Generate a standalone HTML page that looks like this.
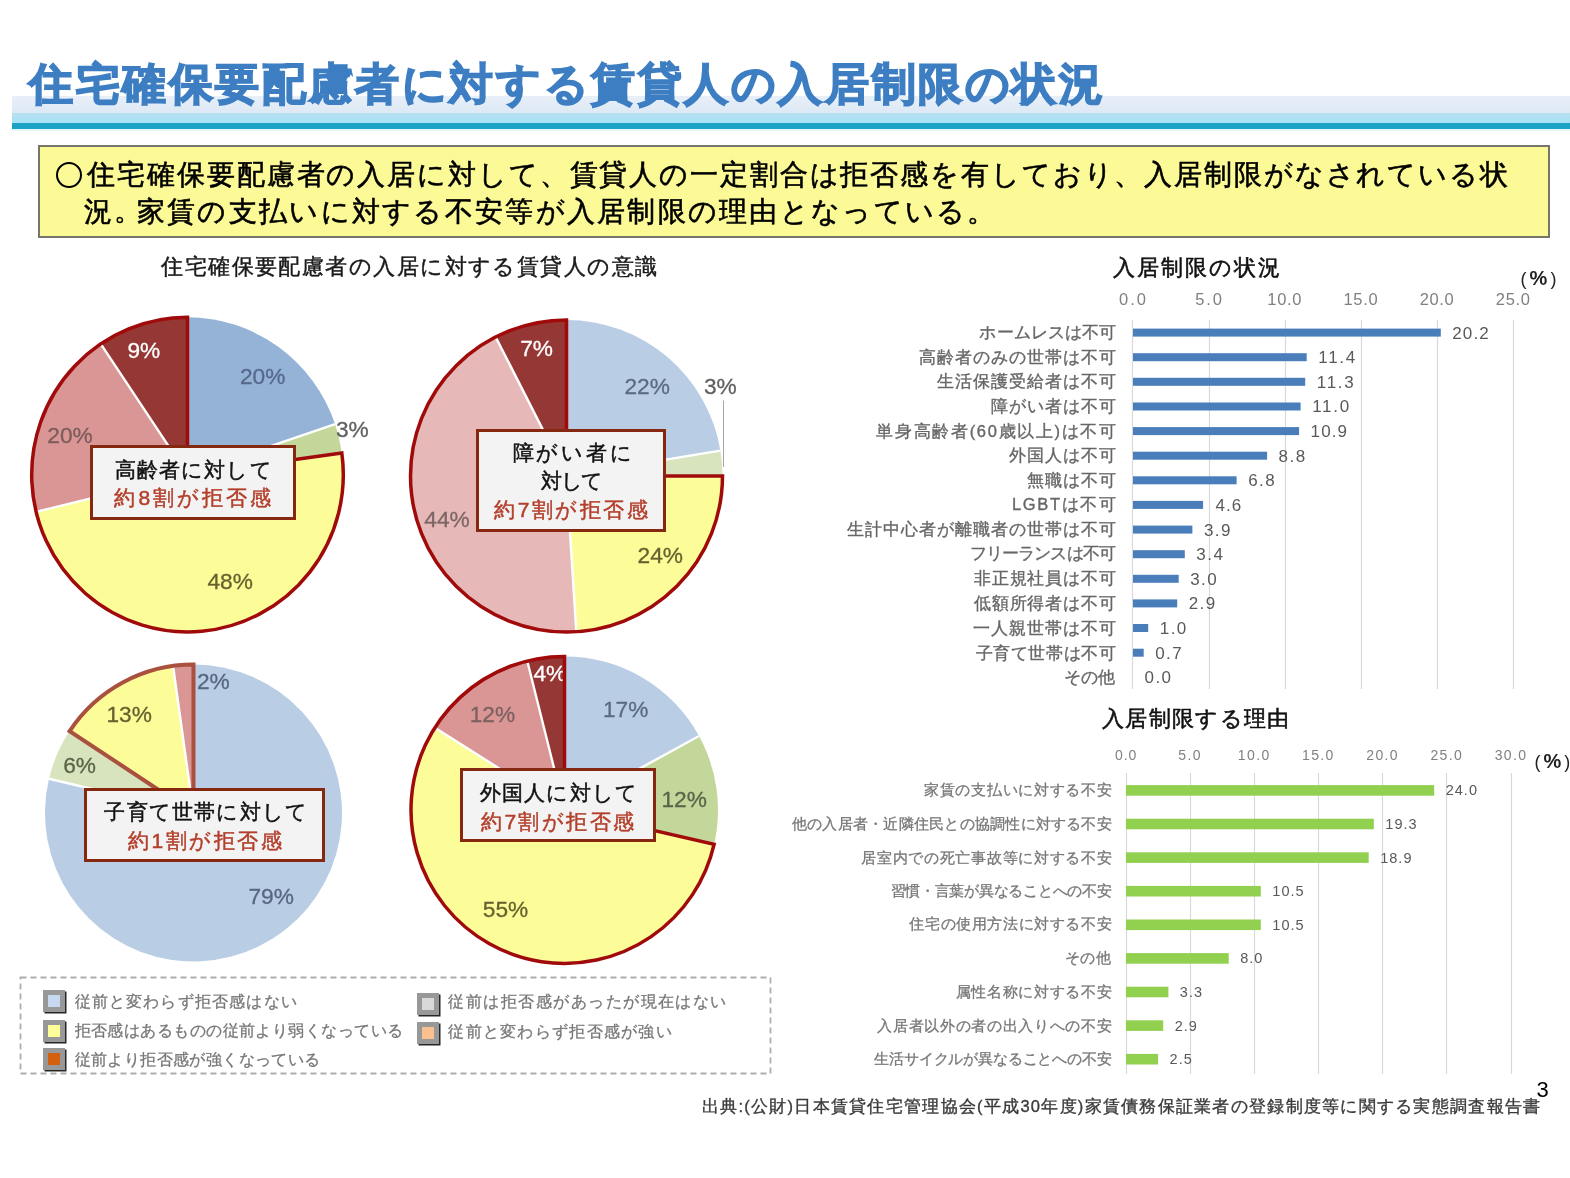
<!DOCTYPE html>
<html><head><meta charset="utf-8"><style>
*{margin:0;padding:0;box-sizing:border-box;}
body{width:1570px;height:1178px;position:relative;overflow:hidden;background:#fff;font-family:"Liberation Sans", sans-serif;}
.a{position:absolute;}
.t{position:absolute;white-space:nowrap;line-height:1;}
.st{font-family:"Liberation Sans", sans-serif;}
.cb{position:absolute;background:#f3f3f4;border:3px solid #85280f;}
.ic{position:absolute;width:22px;height:22px;background:#989898;box-shadow:1.5px 1.5px 0 #262626;}
.ic i{position:absolute;left:5px;top:5px;width:12px;height:12px;}
</style></head><body><div style="position:absolute;left:0;top:0;width:1570px;height:1178px;filter:blur(0.4px)">
<div class="a" style="left:12px;top:96px;width:1558px;height:17px;background:linear-gradient(#e8eff8,#dde9f5);"></div>
<div class="a" style="left:12px;top:113px;width:1558px;height:10px;background:linear-gradient(#b9dfee,#a6e2f8);"></div>
<div class="a" style="left:12px;top:123px;width:1558px;height:6px;background:#1ba2c7;"></div>
<div class="a" style="left:12px;top:129px;width:1558px;height:2px;background:#e3f8fd;"></div>
<div class="t" style="left:29.00px;top:62.50px;font-size:43.5px;color:#3d7ec3;font-weight:700;letter-spacing:2.591px;-webkit-text-stroke:1.6px #3d7ec3;">住宅確保要配慮者に対する賃貸人の入居制限の状況</div>
<div class="a" style="left:38px;top:145px;width:1512px;height:93px;background:#fcfa97;border:2px solid #76766a;"></div>
<div class="a" style="left:55.5px;top:161.5px;width:26px;height:26px;border:2.8px solid #000;border-radius:50%;"></div>
<div class="t" style="left:87.40px;top:161.00px;font-size:28px;color:#000;letter-spacing:1.883px;-webkit-text-stroke:0.6px #000;">住宅確保要配慮者の入居に対して、賃貸人の一定割合は拒否感を有しており、入居制限がなされている状</div>
<div class="t" style="left:83.65px;top:198.00px;font-size:28px;color:#000;-webkit-text-stroke:0.6px #000;">況</div>
<div class="t" style="left:136.90px;top:198.00px;font-size:28px;color:#000;letter-spacing:2.278px;-webkit-text-stroke:0.6px #000;">家賃の支払いに対する不安等が入居制限の理由となっている。</div>
<div class="t" style="left:114.00px;top:196.50px;font-size:28px;color:#000;-webkit-text-stroke:0.45px #000;">。</div>
<div class="t" style="left:409.87px;transform:translateX(-50%);top:255.80px;font-size:22px;color:#1a1a1a;letter-spacing:1.435px;-webkit-text-stroke:0.45px #1a1a1a;">住宅確保要配慮者の入居に対する賃貸人の意識</div>
<svg class="a" style="left:0;top:0" width="1570" height="1178" viewBox="0 0 1570 1178">
<g transform="translate(0 -4.569) scale(1 1.00963)">
<path d="M187.50,474.60L187.50,318.80A155.8,155.8 0 0 1 335.06,424.60Z" fill="#95b3d7"/>
<path d="M187.50,474.60L335.06,424.60A155.8,155.8 0 0 1 341.81,453.13Z" fill="#c4d79b"/>
<path d="M187.50,474.60L341.81,453.13A155.8,155.8 0 0 1 36.12,511.45Z" fill="#fcfc98"/>
<path d="M187.50,474.60L36.12,511.45A155.8,155.8 0 0 1 100.74,345.19Z" fill="#d99694"/>
<path d="M187.50,474.60L100.74,345.19A155.8,155.8 0 0 1 187.50,318.80Z" fill="#953735"/>
</g>
<text x="240.00" y="383.72" font-size="22.7" fill="#56698a" stroke="#56698a" stroke-width="0.3" class="st">20%</text>
<text x="335.90" y="436.62" font-size="22.7" fill="#606060" stroke="#606060" stroke-width="0.3" class="st">3%</text>
<text x="47.30" y="443.22" font-size="22.7" fill="#7d5c5c" stroke="#7d5c5c" stroke-width="0.3" class="st">20%</text>
<text x="127.50" y="357.52" font-size="22.7" fill="#ffffff" stroke="#ffffff" stroke-width="0.3" class="st">9%</text>
<text x="207.50" y="588.92" font-size="22.7" fill="#65622f" stroke="#65622f" stroke-width="0.3" class="st">48%</text>
<g transform="translate(0 -4.569) scale(1 1.00963)">
<line x1="187.50" y1="474.60" x2="187.50" y2="318.80" stroke="#fff" stroke-width="2.4"/>
<line x1="187.50" y1="474.60" x2="335.06" y2="424.60" stroke="#fff" stroke-width="2.4"/>
<line x1="187.50" y1="474.60" x2="341.81" y2="453.13" stroke="#fff" stroke-width="2.4"/>
<line x1="187.50" y1="474.60" x2="36.12" y2="511.45" stroke="#fff" stroke-width="2.4"/>
<line x1="187.50" y1="474.60" x2="100.74" y2="345.19" stroke="#fff" stroke-width="2.4"/>
<path d="M187.50,474.60L341.81,453.13A155.8,155.8 0 1 1 187.50,318.80Z" fill="none" stroke="#a00a0a" stroke-width="3.5" stroke-linejoin="miter"/>
</g>
<path d="M566.50,476.00L566.50,320.00A156,156 0 0 1 720.42,450.63Z" fill="#b9cde5"/>
<path d="M566.50,476.00L720.42,450.63A156,156 0 0 1 722.50,476.00Z" fill="#d7e4bd"/>
<path d="M566.50,476.00L722.50,476.00A156,156 0 0 1 576.30,631.69Z" fill="#fcfc98"/>
<path d="M566.50,476.00L576.30,631.69A156,156 0 0 1 495.68,337.00Z" fill="#e6b9b8"/>
<path d="M566.50,476.00L495.68,337.00A156,156 0 0 1 566.50,320.00Z" fill="#953735"/>
<text x="520.20" y="355.62" font-size="22.7" fill="#ffffff" stroke="#ffffff" stroke-width="0.3" class="st">7%</text>
<text x="624.50" y="394.42" font-size="22.7" fill="#5b6b82" stroke="#5b6b82" stroke-width="0.3" class="st">22%</text>
<text x="704.00" y="394.42" font-size="22.7" fill="#606060" stroke="#606060" stroke-width="0.3" class="st">3%</text>
<text x="424.30" y="526.92" font-size="22.7" fill="#7d6666" stroke="#7d6666" stroke-width="0.3" class="st">44%</text>
<text x="637.60" y="562.62" font-size="22.7" fill="#65622f" stroke="#65622f" stroke-width="0.3" class="st">24%</text>
<line x1="566.50" y1="476.00" x2="566.50" y2="320.00" stroke="#fff" stroke-width="2.4"/>
<line x1="566.50" y1="476.00" x2="720.42" y2="450.63" stroke="#fff" stroke-width="2.4"/>
<line x1="566.50" y1="476.00" x2="722.50" y2="476.00" stroke="#fff" stroke-width="2.4"/>
<line x1="566.50" y1="476.00" x2="576.30" y2="631.69" stroke="#fff" stroke-width="2.4"/>
<line x1="566.50" y1="476.00" x2="495.68" y2="337.00" stroke="#fff" stroke-width="2.4"/>
<path d="M566.50,476.00L722.50,476.00A156,156 0 1 1 566.50,320.00Z" fill="none" stroke="#a00a0a" stroke-width="3.5" stroke-linejoin="miter"/>
<path d="M193.50,813.00L193.50,664.50A148.5,148.5 0 1 1 48.99,778.79Z" fill="#b9cde5"/>
<path d="M193.50,813.00L48.99,778.79A148.5,148.5 0 0 1 69.64,731.08Z" fill="#d7e4bd"/>
<path d="M193.50,813.00L69.64,731.08A148.5,148.5 0 0 1 173.04,665.92Z" fill="#fcfc98"/>
<path d="M193.50,813.00L173.04,665.92A148.5,148.5 0 0 1 193.50,664.50Z" fill="#d99694"/>
<text x="196.90" y="688.82" font-size="22.7" fill="#566880" stroke="#566880" stroke-width="0.3" class="st">2%</text>
<text x="106.50" y="721.92" font-size="22.7" fill="#65622f" stroke="#65622f" stroke-width="0.3" class="st">13%</text>
<text x="63.20" y="773.22" font-size="22.7" fill="#58654a" stroke="#58654a" stroke-width="0.3" class="st">6%</text>
<text x="248.40" y="904.02" font-size="22.7" fill="#566880" stroke="#566880" stroke-width="0.3" class="st">79%</text>
<line x1="193.50" y1="813.00" x2="193.50" y2="664.50" stroke="#fff" stroke-width="2.4"/>
<line x1="193.50" y1="813.00" x2="48.99" y2="778.79" stroke="#fff" stroke-width="2.4"/>
<line x1="193.50" y1="813.00" x2="69.64" y2="731.08" stroke="#fff" stroke-width="2.4"/>
<line x1="193.50" y1="813.00" x2="173.04" y2="665.92" stroke="#fff" stroke-width="2.4"/>
<line x1="193.50" y1="813.00" x2="193.50" y2="664.50" stroke="#fff" stroke-width="2.4"/>
<path d="M193.50,813.00L69.64,731.08A148.5,148.5 0 0 1 193.50,664.50Z" fill="none" stroke="#a9503f" stroke-width="4" stroke-linejoin="miter"/>
<path d="M564.50,809.90L564.50,656.40A153.5,153.5 0 0 1 699.01,735.95Z" fill="#b9cde5"/>
<path d="M564.50,809.90L699.01,735.95A153.5,153.5 0 0 1 714.09,844.33Z" fill="#c4d79b"/>
<path d="M564.50,809.90L714.09,844.33A153.5,153.5 0 1 1 434.90,727.65Z" fill="#fcfc98"/>
<path d="M564.50,809.90L434.90,727.65A153.5,153.5 0 0 1 527.26,660.99Z" fill="#d99694"/>
<path d="M564.50,809.90L527.26,660.99A153.5,153.5 0 0 1 564.50,656.40Z" fill="#953735"/>
<text x="533.50" y="680.72" font-size="22.7" fill="#ffffff" stroke="#ffffff" stroke-width="0.3" class="st">4%</text>
<text x="603.00" y="716.52" font-size="22.7" fill="#5b6b82" stroke="#5b6b82" stroke-width="0.3" class="st">17%</text>
<text x="469.70" y="722.32" font-size="22.7" fill="#7d6060" stroke="#7d6060" stroke-width="0.3" class="st">12%</text>
<text x="661.40" y="807.22" font-size="22.7" fill="#58654a" stroke="#58654a" stroke-width="0.3" class="st">12%</text>
<text x="482.80" y="917.02" font-size="22.7" fill="#65622f" stroke="#65622f" stroke-width="0.3" class="st">55%</text>
<line x1="564.50" y1="809.90" x2="564.50" y2="656.40" stroke="#fff" stroke-width="2.4"/>
<line x1="564.50" y1="809.90" x2="699.01" y2="735.95" stroke="#fff" stroke-width="2.4"/>
<line x1="564.50" y1="809.90" x2="714.09" y2="844.33" stroke="#fff" stroke-width="2.4"/>
<line x1="564.50" y1="809.90" x2="434.90" y2="727.65" stroke="#fff" stroke-width="2.4"/>
<line x1="564.50" y1="809.90" x2="527.26" y2="660.99" stroke="#fff" stroke-width="2.4"/>
<path d="M564.50,809.90L714.09,844.33A153.5,153.5 0 1 1 564.50,656.40Z" fill="none" stroke="#a00a0a" stroke-width="3.5" stroke-linejoin="miter"/>
<line x1="723.5" y1="400.5" x2="723.5" y2="467" stroke="#a6a6a6" stroke-width="1"/>
</svg>
<div class="cb" style="left:90px;top:445px;width:206px;height:75px;"></div>
<div class="cb" style="left:476px;top:429px;width:190px;height:103px;"></div>
<div class="cb" style="left:84px;top:788px;width:241px;height:74px;"></div>
<div class="cb" style="left:460px;top:768px;width:196px;height:74px;"></div>
<div class="t" style="left:193.77px;transform:translateX(-50%);top:458.80px;font-size:21px;color:#111;letter-spacing:1.133px;-webkit-text-stroke:0.5px #111;">高齢者に対して</div>
<div class="t" style="left:194.24px;transform:translateX(-50%);top:487.15px;font-size:21px;color:#b43f2b;letter-spacing:3.000px;-webkit-text-stroke:0.5px #b43f2b;">約8割が拒否感</div>
<div class="t" style="left:573.51px;transform:translateX(-50%);top:441.95px;font-size:21px;color:#111;letter-spacing:2.725px;-webkit-text-stroke:0.5px #111;">障がい者に</div>
<div class="t" style="left:571.23px;transform:translateX(-50%);top:470.35px;font-size:21px;color:#111;letter-spacing:-1.650px;-webkit-text-stroke:0.5px #111;">対して</div>
<div class="t" style="left:572.29px;transform:translateX(-50%);top:499.45px;font-size:21px;color:#b43f2b;letter-spacing:2.500px;-webkit-text-stroke:0.5px #b43f2b;">約7割が拒否感</div>
<div class="t" style="left:206.36px;transform:translateX(-50%);top:801.15px;font-size:21px;color:#111;letter-spacing:1.213px;-webkit-text-stroke:0.5px #111;">子育て世帯に対して</div>
<div class="t" style="left:206.17px;transform:translateX(-50%);top:830.35px;font-size:21px;color:#b43f2b;letter-spacing:2.550px;-webkit-text-stroke:0.5px #b43f2b;">約1割が拒否感</div>
<div class="t" style="left:559.02px;transform:translateX(-50%);top:781.75px;font-size:21px;color:#111;letter-spacing:1.033px;-webkit-text-stroke:0.5px #111;">外国人に対して</div>
<div class="t" style="left:558.67px;transform:translateX(-50%);top:810.55px;font-size:21px;color:#b43f2b;letter-spacing:2.350px;-webkit-text-stroke:0.5px #b43f2b;">約7割が拒否感</div>
<svg class="a" style="left:0;top:0" width="800" height="1100"><rect x="20.5" y="977.5" width="750" height="96" fill="none" stroke="#adadad" stroke-width="1.8" stroke-dasharray="6 4"/></svg>
<div class="ic" style="left:43px;top:990px;"><i style="background:#c6d9f1"></i></div>
<div class="ic" style="left:43px;top:1019.5px;"><i style="background:#ffff99"></i></div>
<div class="ic" style="left:43px;top:1048px;"><i style="background:#d2600f"></i></div>
<div class="ic" style="left:417px;top:993px;"><i style="background:#d9d9d9"></i></div>
<div class="ic" style="left:417px;top:1022px;"><i style="background:#fac090"></i></div>
<div class="t" style="left:74.50px;top:993.75px;font-size:16px;color:#777;letter-spacing:1.200px;-webkit-text-stroke:0.3px #777;">従前と変わらず拒否感はない</div>
<div class="t" style="left:74.50px;top:1022.70px;font-size:16px;color:#777;letter-spacing:0.447px;-webkit-text-stroke:0.3px #777;">拒否感はあるものの従前より弱くなっている</div>
<div class="t" style="left:74.50px;top:1052.35px;font-size:16px;color:#777;letter-spacing:0.407px;-webkit-text-stroke:0.3px #777;">従前より拒否感が強くなっている</div>
<div class="t" style="left:448.40px;top:994.25px;font-size:16px;color:#777;letter-spacing:1.467px;-webkit-text-stroke:0.3px #777;">従前は拒否感があったが現在はない</div>
<div class="t" style="left:448.40px;top:1023.50px;font-size:16px;color:#777;letter-spacing:1.275px;-webkit-text-stroke:0.3px #777;">従前と変わらず拒否感が強い</div>
<svg class="a" style="left:0;top:0" width="1570" height="1178">
<line x1="1132.5" y1="320" x2="1132.5" y2="689" stroke="#d9d9d9" stroke-width="1.2"/>
<line x1="1209.5" y1="320" x2="1209.5" y2="689" stroke="#d9d9d9" stroke-width="1.2"/>
<line x1="1285.5" y1="320" x2="1285.5" y2="689" stroke="#d9d9d9" stroke-width="1.2"/>
<line x1="1361.5" y1="320" x2="1361.5" y2="689" stroke="#d9d9d9" stroke-width="1.2"/>
<line x1="1437.5" y1="320" x2="1437.5" y2="689" stroke="#d9d9d9" stroke-width="1.2"/>
<line x1="1513.5" y1="320" x2="1513.5" y2="689" stroke="#d9d9d9" stroke-width="1.2"/>
<rect x="1133.0" y="328.6" width="307.8" height="8" fill="#4a7ebb"/>
<rect x="1133.0" y="353.2" width="173.7" height="8" fill="#4a7ebb"/>
<rect x="1133.0" y="377.8" width="172.2" height="8" fill="#4a7ebb"/>
<rect x="1133.0" y="402.5" width="167.6" height="8" fill="#4a7ebb"/>
<rect x="1133.0" y="427.1" width="166.1" height="8" fill="#4a7ebb"/>
<rect x="1133.0" y="451.7" width="134.1" height="8" fill="#4a7ebb"/>
<rect x="1133.0" y="476.3" width="103.6" height="8" fill="#4a7ebb"/>
<rect x="1133.0" y="500.9" width="70.1" height="8" fill="#4a7ebb"/>
<rect x="1133.0" y="525.6" width="59.4" height="8" fill="#4a7ebb"/>
<rect x="1133.0" y="550.2" width="51.8" height="8" fill="#4a7ebb"/>
<rect x="1133.0" y="574.8" width="45.7" height="8" fill="#4a7ebb"/>
<rect x="1133.0" y="599.4" width="44.2" height="8" fill="#4a7ebb"/>
<rect x="1133.0" y="624.0" width="15.2" height="8" fill="#4a7ebb"/>
<rect x="1133.0" y="648.7" width="10.7" height="8" fill="#4a7ebb"/>
<line x1="1126.5" y1="773" x2="1126.5" y2="1074" stroke="#d9d9d9" stroke-width="1.2"/>
<line x1="1190.5" y1="773" x2="1190.5" y2="1074" stroke="#d9d9d9" stroke-width="1.2"/>
<line x1="1254.5" y1="773" x2="1254.5" y2="1074" stroke="#d9d9d9" stroke-width="1.2"/>
<line x1="1318.5" y1="773" x2="1318.5" y2="1074" stroke="#d9d9d9" stroke-width="1.2"/>
<line x1="1382.5" y1="773" x2="1382.5" y2="1074" stroke="#d9d9d9" stroke-width="1.2"/>
<line x1="1446.5" y1="773" x2="1446.5" y2="1074" stroke="#d9d9d9" stroke-width="1.2"/>
<line x1="1511.5" y1="773" x2="1511.5" y2="1074" stroke="#d9d9d9" stroke-width="1.2"/>
<rect x="1126.0" y="785.1" width="308.2" height="10.6" fill="#92d050"/>
<rect x="1126.0" y="818.7" width="247.8" height="10.6" fill="#92d050"/>
<rect x="1126.0" y="852.3" width="242.7" height="10.6" fill="#92d050"/>
<rect x="1126.0" y="885.9" width="134.8" height="10.6" fill="#92d050"/>
<rect x="1126.0" y="919.5" width="134.8" height="10.6" fill="#92d050"/>
<rect x="1126.0" y="953.1" width="102.7" height="10.6" fill="#92d050"/>
<rect x="1126.0" y="986.7" width="42.4" height="10.6" fill="#92d050"/>
<rect x="1126.0" y="1020.3" width="37.2" height="10.6" fill="#92d050"/>
<rect x="1126.0" y="1053.9" width="32.1" height="10.6" fill="#92d050"/>
</svg>
<div class="t" style="left:1197.50px;transform:translateX(-50%);top:257.35px;font-size:22px;color:#111;letter-spacing:2.000px;-webkit-text-stroke:0.55px #111;">入居制限の状況</div>
<div class="t" style="left:1196.36px;transform:translateX(-50%);top:708.40px;font-size:22px;color:#111;letter-spacing:1.314px;-webkit-text-stroke:0.55px #111;">入居制限する理由</div>
<div class="t" style="right:454.16px;text-align:right;top:323.60px;font-size:16.5px;color:#666;letter-spacing:0.043px;-webkit-text-stroke:0.35px #666;">ホームレスは不可</div>
<div class="t" style="left:1452.35px;top:324.60px;font-size:17px;color:#595959;letter-spacing:1.067px;">20.2</div>
<div class="t" style="right:453.21px;text-align:right;top:348.72px;font-size:16.5px;color:#666;letter-spacing:0.990px;-webkit-text-stroke:0.35px #666;">高齢者のみの世帯は不可</div>
<div class="t" style="left:1318.24px;top:349.22px;font-size:17px;color:#595959;letter-spacing:1.733px;">11.4</div>
<div class="t" style="right:453.20px;text-align:right;top:373.34px;font-size:16.5px;color:#666;letter-spacing:1.000px;-webkit-text-stroke:0.35px #666;">生活保護受給者は不可</div>
<div class="t" style="left:1316.71px;top:373.84px;font-size:17px;color:#595959;letter-spacing:1.733px;">11.3</div>
<div class="t" style="right:453.22px;text-align:right;top:397.96px;font-size:16.5px;color:#666;letter-spacing:0.983px;-webkit-text-stroke:0.35px #666;">障がい者は不可</div>
<div class="t" style="left:1312.14px;top:398.46px;font-size:17px;color:#595959;letter-spacing:1.733px;">11.0</div>
<div class="t" style="right:452.18px;text-align:right;top:422.58px;font-size:16.5px;color:#666;letter-spacing:1.679px;-webkit-text-stroke:0.35px #666;">単身高齢者(60歳以上)は不可</div>
<div class="t" style="left:1310.62px;top:423.08px;font-size:17px;color:#595959;letter-spacing:1.067px;">10.9</div>
<div class="t" style="right:453.24px;text-align:right;top:447.20px;font-size:16.5px;color:#666;letter-spacing:0.960px;-webkit-text-stroke:0.35px #666;">外国人は不可</div>
<div class="t" style="left:1278.61px;top:447.70px;font-size:17px;color:#595959;letter-spacing:1.450px;">8.8</div>
<div class="t" style="right:453.30px;text-align:right;top:471.82px;font-size:16.5px;color:#666;letter-spacing:0.900px;-webkit-text-stroke:0.35px #666;">無職は不可</div>
<div class="t" style="left:1248.13px;top:472.32px;font-size:17px;color:#595959;letter-spacing:1.450px;">6.8</div>
<div class="t" style="right:452.46px;text-align:right;top:495.94px;font-size:16.5px;color:#666;letter-spacing:1.633px;-webkit-text-stroke:0.35px #666;">LGBTは不可</div>
<div class="t" style="left:1215.60px;top:496.94px;font-size:17px;color:#595959;letter-spacing:0.950px;">4.6</div>
<div class="t" style="right:453.19px;text-align:right;top:521.06px;font-size:16.5px;color:#666;letter-spacing:1.014px;-webkit-text-stroke:0.35px #666;">生計中心者が離職者の世帯は不可</div>
<div class="t" style="left:1203.94px;top:521.56px;font-size:17px;color:#595959;letter-spacing:1.450px;">3.9</div>
<div class="t" style="right:455.09px;text-align:right;top:545.18px;font-size:16.5px;color:#666;letter-spacing:-0.888px;-webkit-text-stroke:0.35px #666;">フリーランスは不可</div>
<div class="t" style="left:1196.32px;top:546.18px;font-size:17px;color:#595959;letter-spacing:1.450px;">3.4</div>
<div class="t" style="right:453.34px;text-align:right;top:570.30px;font-size:16.5px;color:#666;letter-spacing:0.857px;-webkit-text-stroke:0.35px #666;">非正規社員は不可</div>
<div class="t" style="left:1190.22px;top:570.80px;font-size:17px;color:#595959;letter-spacing:1.450px;">3.0</div>
<div class="t" style="right:453.34px;text-align:right;top:594.92px;font-size:16.5px;color:#666;letter-spacing:0.857px;-webkit-text-stroke:0.35px #666;">低額所得者は不可</div>
<div class="t" style="left:1188.70px;top:595.42px;font-size:17px;color:#595959;letter-spacing:1.450px;">2.9</div>
<div class="t" style="right:453.20px;text-align:right;top:619.54px;font-size:16.5px;color:#666;letter-spacing:1.000px;-webkit-text-stroke:0.35px #666;">一人親世帯は不可</div>
<div class="t" style="left:1159.74px;top:620.04px;font-size:17px;color:#595959;letter-spacing:1.450px;">1.0</div>
<div class="t" style="right:453.61px;text-align:right;top:644.66px;font-size:16.5px;color:#666;letter-spacing:0.586px;-webkit-text-stroke:0.35px #666;">子育て世帯は不可</div>
<div class="t" style="left:1155.17px;top:644.66px;font-size:17px;color:#595959;letter-spacing:1.450px;">0.7</div>
<div class="t" style="right:455.05px;text-align:right;top:668.78px;font-size:16.5px;color:#666;letter-spacing:0.150px;-webkit-text-stroke:0.35px #666;">その他</div>
<div class="t" style="left:1144.50px;top:669.28px;font-size:17px;color:#595959;letter-spacing:1.450px;">0.0</div>
<div class="t" style="left:1119.05px;top:290.60px;font-size:16.5px;color:#808080;letter-spacing:1.950px;">0.0</div>
<div class="t" style="left:1195.21px;top:290.60px;font-size:16.5px;color:#808080;letter-spacing:1.950px;">5.0</div>
<div class="t" style="left:1267.32px;top:290.60px;font-size:16.5px;color:#808080;letter-spacing:0.667px;">10.0</div>
<div class="t" style="left:1343.48px;top:290.60px;font-size:16.5px;color:#808080;letter-spacing:0.667px;">15.0</div>
<div class="t" style="left:1419.64px;top:290.60px;font-size:16.5px;color:#808080;letter-spacing:0.667px;">20.0</div>
<div class="t" style="left:1495.80px;top:290.60px;font-size:16.5px;color:#808080;letter-spacing:0.667px;">25.0</div>
<div class="t" style="left:1520.60px;top:268.25px;font-size:18px;color:#222;letter-spacing:3.000px;">(<b style="font-size:20px">%</b>)</div>
<div class="t" style="right:457.61px;text-align:right;top:781.90px;font-size:15px;color:#777;letter-spacing:0.691px;-webkit-text-stroke:0.3px #777;">家賃の支払いに対する不安</div>
<div class="t" style="left:1445.66px;top:783.40px;font-size:14.5px;color:#595959;letter-spacing:1.033px;">24.0</div>
<div class="t" style="right:458.06px;text-align:right;top:815.50px;font-size:15px;color:#777;letter-spacing:0.240px;-webkit-text-stroke:0.3px #777;">他の入居者・近隣住民との協調性に対する不安</div>
<div class="t" style="left:1385.31px;top:817.00px;font-size:14.5px;color:#595959;letter-spacing:1.033px;">19.3</div>
<div class="t" style="right:457.61px;text-align:right;top:849.60px;font-size:15px;color:#777;letter-spacing:0.693px;-webkit-text-stroke:0.3px #777;">居室内での死亡事故等に対する不安</div>
<div class="t" style="left:1380.18px;top:850.60px;font-size:14.5px;color:#595959;letter-spacing:1.033px;">18.9</div>
<div class="t" style="right:458.57px;text-align:right;top:882.70px;font-size:15px;color:#777;letter-spacing:-0.271px;-webkit-text-stroke:0.3px #777;">習慣・言葉が異なることへの不安</div>
<div class="t" style="left:1272.32px;top:884.20px;font-size:14.5px;color:#595959;letter-spacing:1.033px;">10.5</div>
<div class="t" style="right:457.68px;text-align:right;top:916.30px;font-size:15px;color:#777;letter-spacing:0.617px;-webkit-text-stroke:0.3px #777;">住宅の使用方法に対する不安</div>
<div class="t" style="left:1272.32px;top:917.80px;font-size:14.5px;color:#595959;letter-spacing:1.033px;">10.5</div>
<div class="t" style="right:458.85px;text-align:right;top:950.40px;font-size:15px;color:#777;letter-spacing:0.450px;-webkit-text-stroke:0.3px #777;">その他</div>
<div class="t" style="left:1240.22px;top:951.40px;font-size:14.5px;color:#595959;letter-spacing:1.000px;">8.0</div>
<div class="t" style="right:457.61px;text-align:right;top:983.50px;font-size:15px;color:#777;letter-spacing:0.689px;-webkit-text-stroke:0.3px #777;">属性名称に対する不安</div>
<div class="t" style="left:1179.87px;top:985.00px;font-size:14.5px;color:#595959;letter-spacing:1.000px;">3.3</div>
<div class="t" style="right:457.64px;text-align:right;top:1017.60px;font-size:15px;color:#777;letter-spacing:0.664px;-webkit-text-stroke:0.3px #777;">入居者以外の者の出入りへの不安</div>
<div class="t" style="left:1174.74px;top:1018.60px;font-size:14.5px;color:#595959;letter-spacing:1.000px;">2.9</div>
<div class="t" style="right:458.47px;text-align:right;top:1050.70px;font-size:15px;color:#777;letter-spacing:-0.167px;-webkit-text-stroke:0.3px #777;">生活サイクルが異なることへの不安</div>
<div class="t" style="left:1169.60px;top:1052.20px;font-size:14.5px;color:#595959;letter-spacing:1.000px;">2.5</div>
<div class="t" style="left:1115.10px;top:747.60px;font-size:14px;color:#808080;letter-spacing:0.900px;">0.0</div>
<div class="t" style="left:1178.30px;top:747.60px;font-size:14px;color:#808080;letter-spacing:1.400px;">5.0</div>
<div class="t" style="left:1237.85px;top:747.60px;font-size:14px;color:#808080;letter-spacing:1.367px;">10.0</div>
<div class="t" style="left:1302.05px;top:747.60px;font-size:14px;color:#808080;letter-spacing:1.367px;">15.0</div>
<div class="t" style="left:1366.25px;top:747.60px;font-size:14px;color:#808080;letter-spacing:1.367px;">20.0</div>
<div class="t" style="left:1430.45px;top:747.60px;font-size:14px;color:#808080;letter-spacing:1.367px;">25.0</div>
<div class="t" style="left:1494.65px;top:747.60px;font-size:14px;color:#808080;letter-spacing:1.367px;">30.0</div>
<div class="t" style="left:1534.55px;top:751.00px;font-size:18px;color:#222;letter-spacing:3.000px;">(<b style="font-size:20px">%</b>)</div>
<div class="t" style="left:701.90px;top:1097.70px;font-size:16.5px;color:#3a3a3a;letter-spacing:1.271px;-webkit-text-stroke:0.35px #3a3a3a;">出典:(公財)日本賃貸住宅管理協会(平成30年度)家賃債務保証業者の登録制度等に関する実態調査報告書</div>
<div class="t" style="left:1536.50px;top:1078.50px;font-size:22px;color:#000;">3</div>
</div></body></html>
